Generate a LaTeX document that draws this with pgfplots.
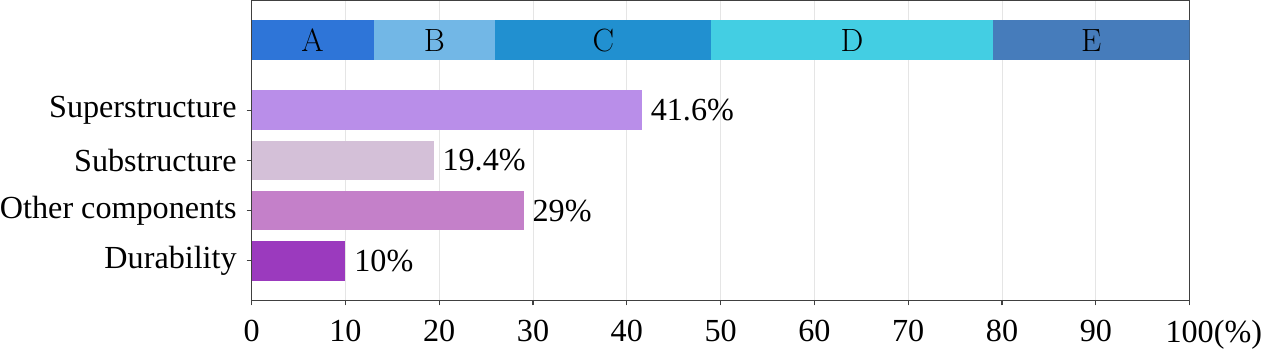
\documentclass[border=0pt]{standalone}
\usepackage{fontspec}
\newfontfamily\tnr{Liberation Serif}
\usepackage{pgfplots}
\pgfplotsset{compat=1.18}
\definecolor{cA}{RGB}{46,117,216}
\definecolor{cB}{RGB}{114,183,230}
\definecolor{cC}{RGB}{33,144,208}
\definecolor{cD}{RGB}{67,206,227}
\definecolor{cE}{RGB}{70,124,187}
\definecolor{cSup}{RGB}{185,142,233}
\definecolor{cSub}{RGB}{212,192,216}
\definecolor{cOth}{RGB}{196,128,201}
\definecolor{cDur}{RGB}{155,58,190}
\newcommand{\fs}{\fontsize{16.2}{18}\selectfont}
\begin{document}
\begin{tikzpicture}
\begin{axis}[
  width=472.5pt, height=151pt, scale only axis,
  xmin=0, xmax=100, ymin=-0.792, ymax=5.188,
  xtick={0,10,20,30,40,50,60,70,80,90,100},
  xticklabels={0,10,20,30,40,50,60,70,80,90,\phantom{(\%)}100(\%)},
  ytick={0,1,2,3},
  yticklabels={Durability,Other components,Substructure,Superstructure},
  xtick pos=bottom, ytick pos=left,
  tick align=outside, major tick length=2.5pt,
  xmajorgrids, grid style={black!10, line width=0.5pt},
  axis line style={black!75, line width=0.6pt},
  tick style={black!75, line width=0.6pt},
  /pgf/number format/assume math mode=true,
  tick label style={font=\tnr\fs},
  xticklabel style={yshift=-4pt, inner xsep=0pt},
  yticklabel style={inner xsep=0pt, xshift=-4.8pt},
]
% top band (drawn from widest to narrowest)
\addplot[xbar, bar width=0.792, fill=cE, draw=none] coordinates {(100,4.396)};
\addplot[xbar, bar width=0.792, fill=cD, draw=none] coordinates {(79,4.396)};
\addplot[xbar, bar width=0.792, fill=cC, draw=none] coordinates {(49,4.396)};
\addplot[xbar, bar width=0.792, fill=cB, draw=none] coordinates {(26,4.396)};
\addplot[xbar, bar width=0.792, fill=cA, draw=none] coordinates {(13,4.396)};
\node at (axis cs:6.5,4.396) {\fs A};
\node at (axis cs:19.5,4.396) {\fs B};
\node at (axis cs:37.5,4.396) {\fs C};
\node at (axis cs:64,4.396) {\fs D};
\node at (axis cs:89.5,4.396) {\fs E};
% main bars
\pgfplotsset{every node near coord/.style={anchor=west, font=\tnr\fs, xshift=1pt, text=black}}
\addplot[xbar, bar width=0.792, fill=cSup, draw=none, point meta=x,
  nodes near coords={\pgfmathprintnumber{\pgfplotspointmeta}\%}] coordinates {(41.6,3)};
\addplot[xbar, bar width=0.792, fill=cSub, draw=none, point meta=x,
  nodes near coords={\pgfmathprintnumber{\pgfplotspointmeta}\%}] coordinates {(19.4,2)};
\addplot[xbar, bar width=0.792, fill=cOth, draw=none, point meta=x,
  nodes near coords={\pgfmathprintnumber{\pgfplotspointmeta}\%}] coordinates {(29,1)};
\addplot[xbar, bar width=0.792, fill=cDur, draw=none, point meta=x,
  nodes near coords={\pgfmathprintnumber{\pgfplotspointmeta}\%}] coordinates {(10,0)};
\end{axis}
\end{tikzpicture}
\end{document}
